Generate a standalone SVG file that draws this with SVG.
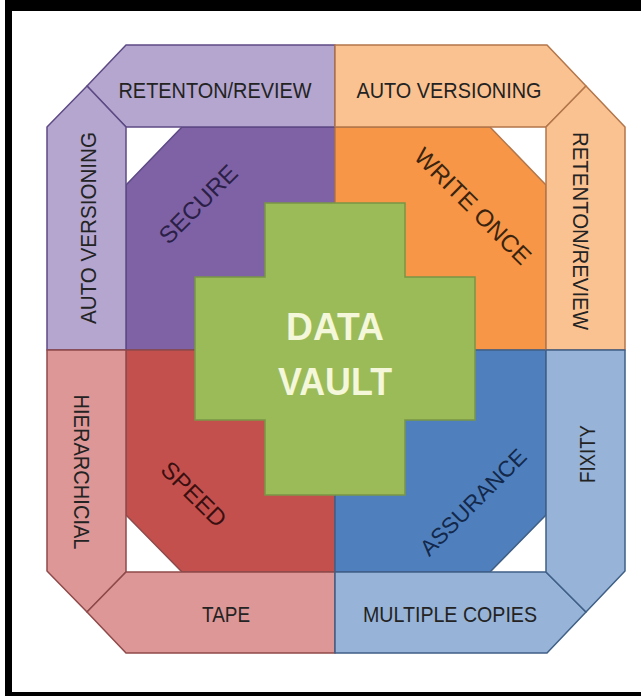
<svg xmlns="http://www.w3.org/2000/svg" width="641" height="696" viewBox="0 0 641 696">
<style>
  .lbl { font-family: "Liberation Sans", Arial, sans-serif; font-size: 22px; fill: #232323; text-anchor: middle; }
  .q { font-family: "Liberation Sans", Arial, sans-serif; font-size: 24px; text-anchor: middle; }
  .pb { fill: #b4a6cf; stroke: #5d4a85; stroke-width: 1.5; stroke-linejoin: round; }
  .pq { fill: #7f62a6; stroke: #5d4a85; stroke-width: 1.5; }
  .ob { fill: #fbc291; stroke: #b3764a; stroke-width: 1.5; stroke-linejoin: round; }
  .oq { fill: #f79646; stroke: #b3764a; stroke-width: 1.5; }
  .rb { fill: #dd9797; stroke: #8e4a4a; stroke-width: 1.5; stroke-linejoin: round; }
  .rq { fill: #c4504e; stroke: #8e4a4a; stroke-width: 1.5; }
  .bb { fill: #97b4d8; stroke: #3f5f86; stroke-width: 1.5; stroke-linejoin: round; }
  .bq { fill: #4f80bd; stroke: #3f5f86; stroke-width: 1.5; }
</style>
<rect x="0" y="0" width="641" height="696" fill="#ffffff"/>
<g id="frame" fill="#000000">
  <rect x="5" y="0" width="636" height="11"/>
  <rect x="5" y="0" width="7" height="696"/>
  <rect x="5" y="692" width="636" height="4"/>
</g>
<g id="connectors"></g>
<g id="quad-secure">
  <polygon class="pq" points="182,127 335,127 335,350 126,350 126,185"/>
  <text class="q" fill="#2b1f47" transform="translate(198,204) rotate(-45)" y="8.5">SECURE</text>
</g>
<g id="quad-write-once">
  <polygon class="oq" points="335,127 490,127 546,185 546,350 335,350"/>
  <text class="q" fill="#3a2410" transform="translate(473,206) rotate(45)" y="8.5">WRITE ONCE</text>
</g>
<g id="quad-speed">
  <polygon class="rq" points="126,350 335,350 335,572 182,572 126,515"/>
  <text class="q" fill="#3a0f10" transform="translate(194,494) rotate(45)" y="8.5">SPEED</text>
</g>
<g id="quad-assurance">
  <polygon class="bq" points="335,350 546,350 546,515 490,572 335,572"/>
  <text class="q" fill="#13284a" transform="translate(473,502) rotate(-45)" y="8" style="font-size:22.5px">ASSURANCE</text>
</g>
<g id="data-vault">
  <polygon points="265,203 405,203 405,277 475,277 475,420 405,420 405,495 265,495 265,420 195,420 195,277 265,277" fill="#9bbb59" stroke="#7a9645" stroke-width="1.5"/>
  <text x="335" y="340" font-family="Liberation Sans, Arial, sans-serif" font-size="38" font-weight="bold" fill="#f4f7da" text-anchor="middle" textLength="98" lengthAdjust="spacingAndGlyphs">DATA</text>
  <text x="335" y="395" font-family="Liberation Sans, Arial, sans-serif" font-size="38" font-weight="bold" fill="#f4f7da" text-anchor="middle" textLength="114" lengthAdjust="spacingAndGlyphs">VAULT</text>
</g>
<g id="band-top-left">
  <polygon class="pb" points="126,45 335,45 335,127 126,127 87,86"/>
  <text class="lbl" x="215" y="98" textLength="193" lengthAdjust="spacingAndGlyphs">RETENTON/REVIEW</text>
</g>
<g id="band-left-top">
  <polygon class="pb" points="87,86 126,127 126,350 47,350 47,127"/>
  <text class="lbl" transform="translate(88,228) rotate(-90)" y="8" textLength="192" lengthAdjust="spacingAndGlyphs">AUTO VERSIONING</text>
</g>
<g id="band-top-right">
  <polygon class="ob" points="335,45 547,45 586,86 546,127 335,127"/>
  <text class="lbl" x="449" y="98" textLength="185" lengthAdjust="spacingAndGlyphs">AUTO VERSIONING</text>
</g>
<g id="band-right-top">
  <polygon class="ob" points="586,86 625,127 625,350 546,350 546,127"/>
  <text class="lbl" transform="translate(581,231) rotate(90)" y="8" textLength="198" lengthAdjust="spacingAndGlyphs">RETENTON/REVIEW</text>
</g>
<g id="band-left-bottom">
  <polygon class="rb" points="47,350 126,350 126,572 87,612 47,571"/>
  <text class="lbl" transform="translate(82,472) rotate(90)" y="8" textLength="155" lengthAdjust="spacingAndGlyphs">HIERARCHICIAL</text>
</g>
<g id="band-bottom-left">
  <polygon class="rb" points="87,612 126,572 335,572 335,653 126,653"/>
  <text class="lbl" x="226" y="622" textLength="48" lengthAdjust="spacingAndGlyphs">TAPE</text>
</g>
<g id="band-bottom-right">
  <polygon class="bb" points="335,572 546,572 586,612 547,653 335,653"/>
  <text class="lbl" x="450" y="622" textLength="174" lengthAdjust="spacingAndGlyphs">MULTIPLE COPIES</text>
</g>
<g id="band-right-bottom">
  <polygon class="bb" points="546,350 625,350 625,571 586,612 546,572"/>
  <text class="lbl" transform="translate(587,454) rotate(-90)" y="8" textLength="58" lengthAdjust="spacingAndGlyphs">FIXITY</text>
</g>
</svg>
